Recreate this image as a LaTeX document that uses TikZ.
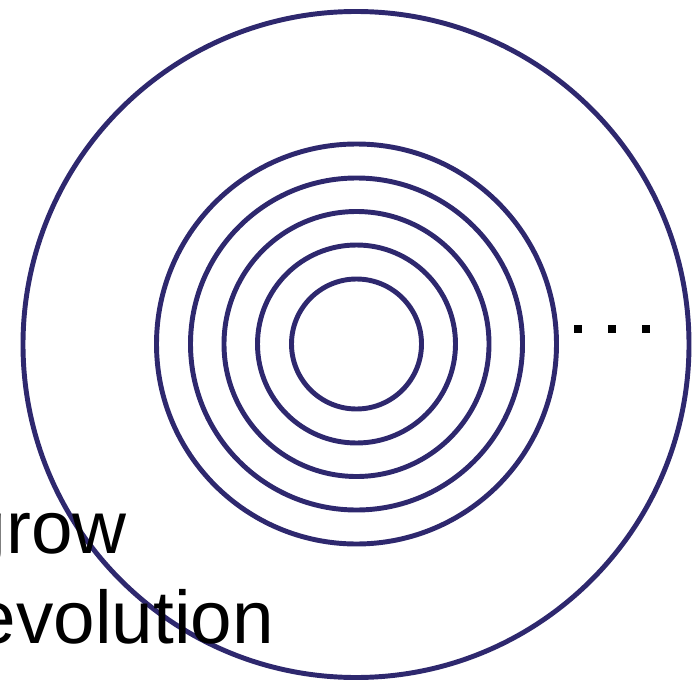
\documentclass[tikz,border=0pt]{standalone}
\usepackage{fontspec}
\setmainfont{Liberation Sans}
\definecolor{ringblue}{RGB}{46,40,110}

\begin{document}
\begin{tikzpicture}[x=0.75pt, y=-0.75pt, line cap=round, line join=round]

% ----------------------------
% PARAMETERS
% ----------------------------
\def\R{333}       % outer circle radius
\def\w{3.7pt}     % ring line width

\coordinate (C) at (356.5,344);
\coordinate (Outer) at (356,344.5);

% ----------------------------
% FRAME
% ----------------------------
\useasboundingbox (0,0) rectangle (695,681);
\clip (0,0) rectangle (695,681);

% ----------------------------
% OUTER CIRCLE
% ----------------------------
\draw[ringblue, line width=\w] (Outer) circle (\R);

% ----------------------------
% INNER RINGS
% ----------------------------
\foreach \r in {65,99,132.5,166,200}
  \draw[ringblue, line width=\w] (C) circle (\r);

% ----------------------------
% DOTS
% ----------------------------
\foreach \dx in {578,612,646}
  \fill (\dx-4,325) rectangle (\dx+4,333);

% ----------------------------
% LABELS
% ----------------------------
\node[anchor=base east, inner sep=0pt, font=\fontsize{56pt}{67pt}\selectfont]
  (grow) at (127,553) {grow};
\node[anchor=base east, inner sep=0pt, font=\fontsize{56pt}{67pt}\selectfont]
  (evol) at (274,643) {evolution};

\end{tikzpicture}
\end{document}
